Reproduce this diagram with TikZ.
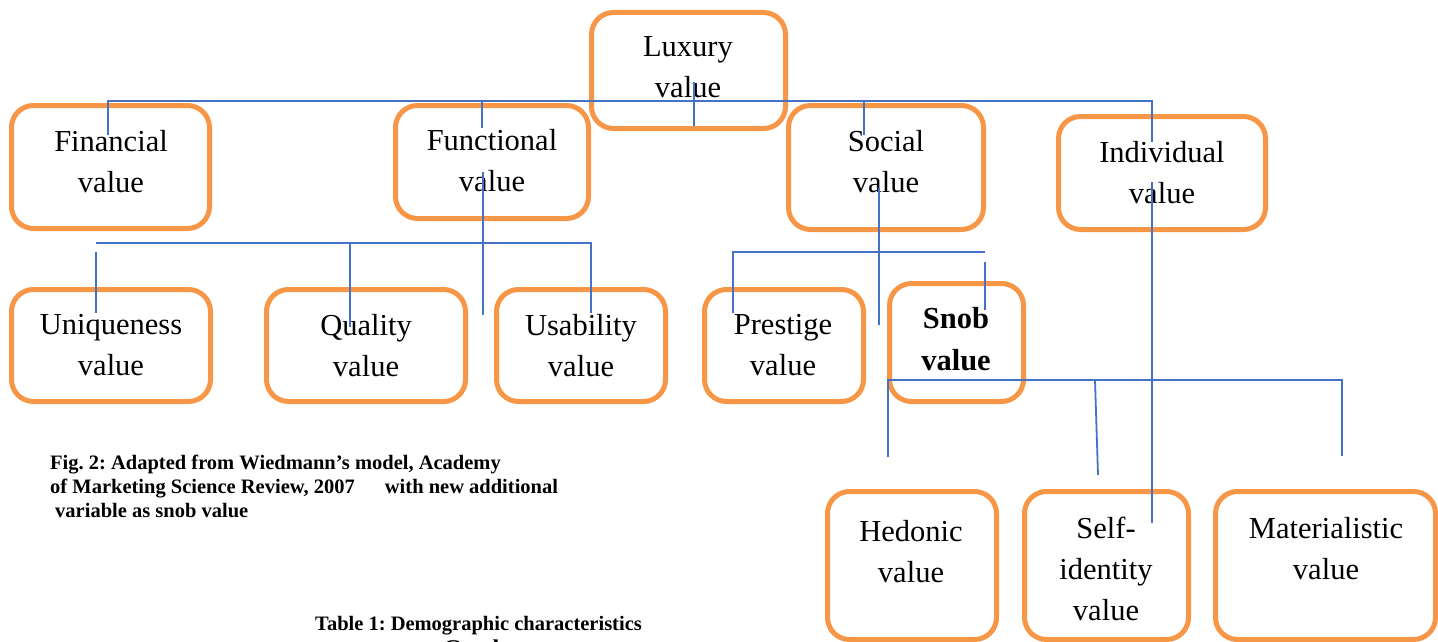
\documentclass[tikz,border=0pt]{standalone}
\usepackage{fontspec}
\setmainfont{Liberation Serif}
\frenchspacing
\definecolor{boxorange}{HTML}{F79646}
\definecolor{linkblue}{HTML}{4472C4}
\begin{document}
\begin{tikzpicture}[x=1pt,y=-1pt,
  vbox/.style={draw=boxorange, line width=5pt, rounded corners=22pt, inner sep=0pt},
  lbl/.style={align=center, font=\fontsize{30.5}{41}\selectfont, inner sep=0pt},
  link/.style={draw=linkblue, line width=1.8pt},
  captxt/.style={align=left, font=\bfseries\fontsize{20.5}{24}\selectfont, inner sep=0pt}]
\useasboundingbox (0,0) rectangle (1438,642);
\clip (0,0) rectangle (1438,642);

% boxes
\node[vbox, minimum width=194pt, minimum height=116pt] (lux) at (688.5,70.5) {};
\node[vbox, minimum width=198pt, minimum height=123pt] (fin) at (110.5,167) {};
\node[vbox, minimum width=193pt, minimum height=113pt] (fun) at (492,162) {};
\node[vbox, minimum width=195pt, minimum height=124pt] (soc) at (886,167.5) {};
\node[vbox, minimum width=207pt, minimum height=113pt] (ind) at (1162,173) {};
\node[vbox, minimum width=199pt, minimum height=112pt] (uni) at (111,345.5) {};
\node[vbox, minimum width=199pt, minimum height=112pt] (qua) at (366,345.5) {};
\node[vbox, minimum width=169pt, minimum height=112pt] (usa) at (581,345.5) {};
\node[vbox, minimum width=159pt, minimum height=112pt] (pre) at (784,345.5) {};
\node[vbox, minimum width=134pt, minimum height=118pt] (snob) at (956.5,342.5) {};
\node[vbox, minimum width=169pt, minimum height=148pt] (hed) at (912,565.5) {};
\node[vbox, minimum width=164pt, minimum height=148pt] (self) at (1106.5,565.5) {};
\node[vbox, minimum width=220pt, minimum height=148pt] (mat) at (1325.5,565.5) {};

% labels
\node[lbl] (luxt) at (688,67.5) {Luxury\\value};
\node[lbl] (fint) at (111,161.5) {Financial\\value};
\node[lbl] (funt) at (492,160.5) {Functional\\value};
\node[lbl] (soct) at (886,161.5) {Social\\value};
\node[lbl] (indt) at (1162,173) {Individual\\value};
\node[lbl] (unit) at (111,345.5) {Uniqueness\\value};
\node[lbl] (quat) at (366,345.5) {Quality\\value};
\node[lbl] (usat) at (581,345.5) {Usability\\value};
\node[lbl] (pret) at (783,345.5) {Prestige\\value};
\node[lbl, font=\bfseries\fontsize{30.5}{42}\selectfont] (snobt) at (956,339) {Snob\\value};
\node[lbl] (hedt) at (911,552) {Hedonic\\value};
\node[lbl] (selft) at (1106,569) {Self-\\identity\\value};
\node[lbl] (matt) at (1326,549) {Materialistic\\value};

% captions
\node[captxt, anchor=north west] (fig) at (50,455)
  {Fig. 2: Adapted from Wiedmann’s model, Academy\\
   of Marketing Science Review, 2007\hspace{25pt} with new additional\\
   \hspace{5pt}variable as snob value};
\node[captxt, anchor=base west] (tab) at (315,630) {Table 1: Demographic characteristics};
\node[captxt, anchor=base west, font=\bfseries\fontsize{24}{28}\selectfont] (gen) at (443,656) {Gender};

% connector coordinates
\coordinate (tL) at (108,101);
\coordinate (tR) at (1152,101);
\coordinate (tFin) at (108,135);
\coordinate (tFunA) at (482,101);
\coordinate (tFunB) at (482,128);
\coordinate (tSocA) at (864,101);
\coordinate (tSocB) at (864,135);
\coordinate (tInd) at (1152,142);
\coordinate (luxA) at (694,82);
\coordinate (luxB) at (694,126);

\coordinate (fv1) at (483,172);
\coordinate (fv2) at (483,315);
\coordinate (fhL) at (96,243);
\coordinate (fhR) at (591,243);
\coordinate (fhQ) at (350,243);
\coordinate (fQ) at (350,327);
\coordinate (fU) at (591,313);
\coordinate (uA) at (96,252);
\coordinate (uB) at (96,313);

\coordinate (sv1) at (879,188);
\coordinate (sv2) at (879,325);
\coordinate (shL) at (733,252);
\coordinate (shR) at (985,252);
\coordinate (sP) at (733,313);
\coordinate (snA) at (985,262);
\coordinate (snB) at (985,310);

\coordinate (iv1) at (1152,182);
\coordinate (iv2) at (1152,523);

\coordinate (nhL) at (888,380);
\coordinate (nhR) at (1342,380);
\coordinate (nhS) at (1095,380);
\coordinate (nH) at (888,457);
\coordinate (nS) at (1098,475);
\coordinate (nM) at (1342,456);

% connectors
\draw[link] (tFin) -- (tL) -- (tR) -- (tInd);
\draw[link] (tFunA) -- (tFunB);
\draw[link] (tSocA) -- (tSocB);
\draw[link] (luxA) -- (luxB);

\draw[link] (fv1) -- (fv2);
\draw[link] (fhL) -- (fhR) -- (fU);
\draw[link] (fhQ) -- (fQ);
\draw[link] (uA) -- (uB);

\draw[link] (sv1) -- (sv2);
\draw[link] (sP) -- (shL) -- (shR);
\draw[link] (snA) -- (snB);

\draw[link] (iv1) -- (iv2);

\draw[link] (nH) -- (nhL) -- (nhR) -- (nM);
\draw[link] (nhS) -- (nS);
\end{tikzpicture}
\end{document}
